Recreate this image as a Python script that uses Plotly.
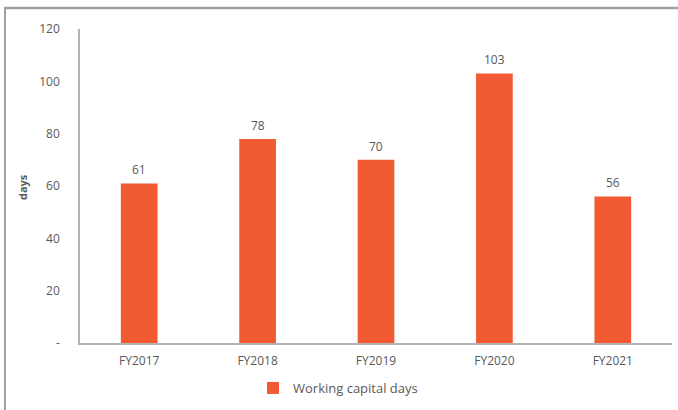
import plotly.graph_objects as go

categories = ["FY2017", "FY2018", "FY2019", "FY2020", "FY2021"]
values = [61, 78, 70, 103, 56]
tick_vals = [0, 20, 40, 60, 80, 100, 120]
tick_text = ["-", "20", "40", "60", "80", "100", "120"]
series_name = "Working capital days"

W, H = 678, 410
L, R, T, B = 80, 6, 29, 67
pw = W - L - R
ph = H - T - B

def px(x):
    return (x - L) / pw

def py(y):
    return (H - B - y) / ph

FONT = "Open Sans"
GRAY = "#595959"
BAR = "#F15A32"
BORDER = "#A0A0A0"

fig = go.Figure()
fig.add_trace(go.Bar(
    x=categories, y=values, name=series_name,
    marker=dict(color=BAR, line=dict(width=0)),
    showlegend=True, hoverinfo="x+y",
))

annotations = [dict(text="<b>days</b>", x=px(22), y=py(187), xref="paper", yref="paper",
                    xanchor="center", yanchor="middle",
                    textangle=-90, showarrow=False, font=dict(family=FONT, size=11, color=GRAY))]
for c, v in zip(categories, values):
    annotations.append(dict(text=str(v), x=c, y=v, xref="x", yref="y", showarrow=False,
                            xanchor="center", yanchor="bottom", yshift=3,
                            font=dict(family=FONT, size=12, color=GRAY)))

fig.update_layout(
    width=W, height=H,
    margin=dict(l=L, r=R, t=T, b=B),
    paper_bgcolor="white", plot_bgcolor="white",
    font=dict(family=FONT, size=12, color=GRAY),
    bargap=0.69,
    showlegend=True,
    legend=dict(orientation="h", x=px(338), xanchor="center", y=py(388), yanchor="middle",
                font=dict(family=FONT, size=13, color=GRAY), itemwidth=30),
    xaxis=dict(showline=True, linecolor="#B3B3B3", linewidth=1.5, ticks="",
               showgrid=False, ticklabelstandoff=6,
               tickfont=dict(family=FONT, size=12, color=GRAY)),
    yaxis=dict(range=[0, 120], tickvals=tick_vals, ticktext=tick_text,
               showline=True, linecolor="#B3B3B3", linewidth=1.5, showgrid=False,
               zeroline=False, ticks="", ticklabelstandoff=16,
               tickfont=dict(family=FONT, size=12, color=GRAY)),
    annotations=annotations,
    shapes=[
        dict(type="line", xref="paper", yref="paper", x0=px(4), x1=px(690), y0=py(8), y1=py(8),
             line=dict(color=BORDER, width=2.5), layer="above"),
        dict(type="line", xref="paper", yref="paper", x0=px(5), x1=px(5), y0=py(7), y1=py(420),
             line=dict(color=BORDER, width=2), layer="above"),
    ],
)

fig.write_html("out.html", config={"displayModeBar": False},
               post_script="document.body.style.margin='0';document.body.style.padding='0';")
